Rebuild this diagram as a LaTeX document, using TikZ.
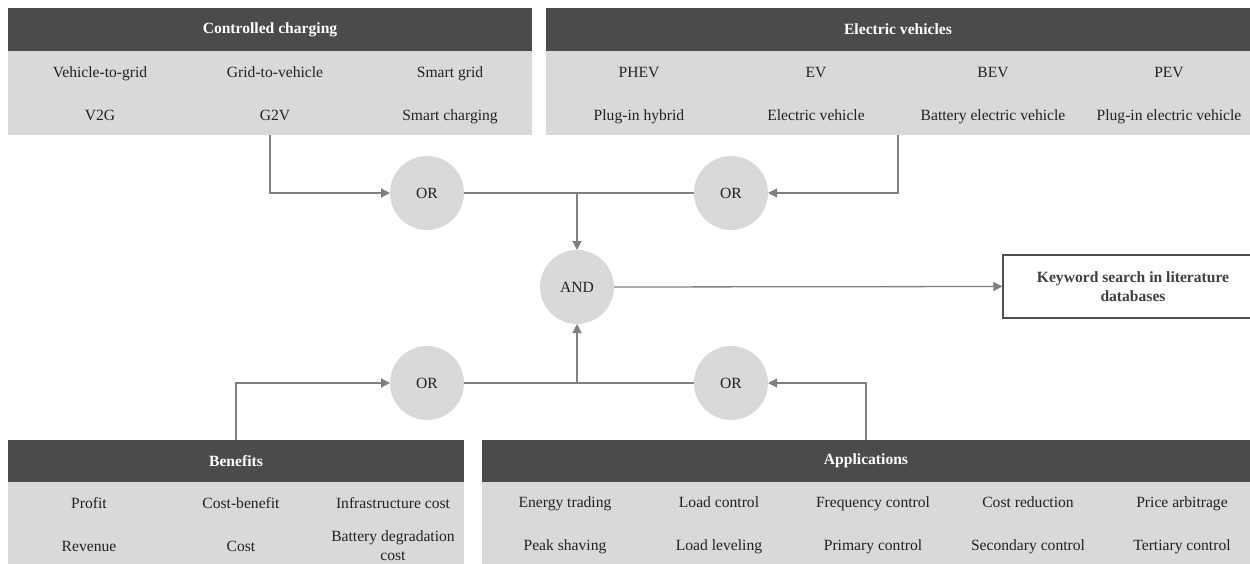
\documentclass[tikz,border=0pt]{standalone}
\usepackage{fontspec}
\setmainfont{Liberation Serif}
\usetikzlibrary{arrows.meta}
\definecolor{hdr}{HTML}{4B4B4B}
\definecolor{bodyc}{HTML}{D9D9D9}
\definecolor{linec}{HTML}{808080}
\definecolor{txt}{HTML}{222222}
\definecolor{kwtxt}{HTML}{404040}
\definecolor{kwline}{HTML}{505050}
\begin{document}
\begin{tikzpicture}[x=1pt,y=-1pt,
  every node/.style={font=\fontsize{15.6}{19}\selectfont, text=txt},
  hdrbox/.style={fill=hdr, draw=none, inner sep=0, outer sep=0, text=white,
    font=\fontsize{15.6}{19}\selectfont\bfseries},
  bodybox/.style={fill=bodyc, draw=none, inner sep=0, outer sep=0},
  lbl/.style={inner sep=0, anchor=base},
  gate/.style={circle, fill=bodyc, draw=none, minimum size=74, inner sep=0, outer sep=0},
  plainline/.style={draw=linec, line width=1.3pt},
  conn/.style={plainline, -{Triangle[length=9pt,width=9pt]}},
]
\useasboundingbox (0,0) rectangle (1250,564);
\clip (0,0) rectangle (1250,564);
\fill[white] (0,0) rectangle (1250,564);

% ---------- Controlled charging ----------
\node[hdrbox, minimum width=524, minimum height=43] (ccHead) at (270,29.5) {Controlled charging};
\node[bodybox, minimum width=524, minimum height=84] (ccBody) at (270,93) {};
\node[lbl] (cc1) at (100,77.5) {Vehicle-to-grid};
\node[lbl] (cc2) at (275,77.5) {Grid-to-vehicle};
\node[lbl] (cc3) at (450,77.5) {Smart grid};
\node[lbl] (cc4) at (100,120.5) {V2G};
\node[lbl] (cc5) at (275,120.5) {G2V};
\node[lbl] (cc6) at (450,120.5) {Smart charging};

% ---------- Electric vehicles ----------
\node[hdrbox, minimum width=704, minimum height=43] (evHead) at (898,29.5) {Electric vehicles};
\node[bodybox, minimum width=704, minimum height=84] (evBody) at (898,93) {};
\node[lbl] (ev1) at (639,77.5) {PHEV};
\node[lbl] (ev2) at (816,77.5) {EV};
\node[lbl] (ev3) at (993,77.5) {BEV};
\node[lbl] (ev4) at (1169,77.5) {PEV};
\node[lbl] (ev5) at (639,120.5) {Plug-in hybrid};
\node[lbl] (ev6) at (816,120.5) {Electric vehicle};
\node[lbl] (ev7) at (993,120.5) {Battery electric vehicle};
\node[lbl] (ev8) at (1169,120.5) {Plug-in electric vehicle};

% ---------- Benefits ----------
\node[hdrbox, minimum width=456, minimum height=42] (benHead) at (236,461) {Benefits};
\node[bodybox, minimum width=456, minimum height=90] (benBody) at (236,527) {};
\node[lbl] (be1) at (89,508.5) {Profit};
\node[lbl] (be2) at (241,508.5) {Cost-benefit};
\node[lbl] (be3) at (393,508.5) {Infrastructure cost};
\node[lbl] (be4) at (89,551.5) {Revenue};
\node[lbl] (be5) at (241,551.5) {Cost};
\node[inner sep=0, align=center] (be6) at (393,546) {Battery degradation\\cost};

% ---------- Applications ----------
\node[hdrbox, minimum width=768, minimum height=42] (appHead) at (866,461) {Applications};
\node[bodybox, minimum width=768, minimum height=90] (appBody) at (866,527) {};
\node[lbl] (ap1) at (565,507.5) {Energy trading};
\node[lbl] (ap2) at (719,507.5) {Load control};
\node[lbl] (ap3) at (873,507.5) {Frequency control};
\node[lbl] (ap4) at (1028,507.5) {Cost reduction};
\node[lbl] (ap5) at (1182,507.5) {Price arbitrage};
\node[lbl] (ap6) at (565,550.5) {Peak shaving};
\node[lbl] (ap7) at (719,550.5) {Load leveling};
\node[lbl] (ap8) at (873,550.5) {Primary control};
\node[lbl] (ap9) at (1028,550.5) {Secondary control};
\node[lbl] (ap10) at (1182,550.5) {Tertiary control};

% ---------- Gates ----------
\node[gate] (or1) at (427,193) {OR};
\node[gate] (or2) at (731,193) {OR};
\node[gate] (and) at (577,287) {AND};
\node[gate] (or3) at (427,383) {OR};
\node[gate] (or4) at (731,383) {OR};

% ---------- Result ----------
\node[draw=kwline, line width=1.4pt, fill=white, minimum width=260, minimum height=63,
  inner sep=0, align=center, text=kwtxt, font=\fontsize{15.6}{19}\selectfont\bfseries]
  (kw) at (1133,286.5) {Keyword search in literature\\databases};

% ---------- Connectors ----------
\coordinate (jtop) at (and.north |- or1.east);
\coordinate (jbot) at (and.south |- or3.east);
\draw[conn] (ccBody.south) |- (or1.west);
\draw[conn] (evBody.south) |- (or2.east);
\draw[plainline] (or1.east) -- (or2.west);
\draw[conn] (jtop) -- (and.north);
\draw[conn] (benHead.north) |- (or3.west);
\draw[conn] (appHead.north) |- (or4.east);
\draw[plainline] (or3.east) -- (or4.west);
\draw[conn] (jbot) -- (and.south);
\draw[conn] (and.east) -- (kw.west);
\end{tikzpicture}
\end{document}
